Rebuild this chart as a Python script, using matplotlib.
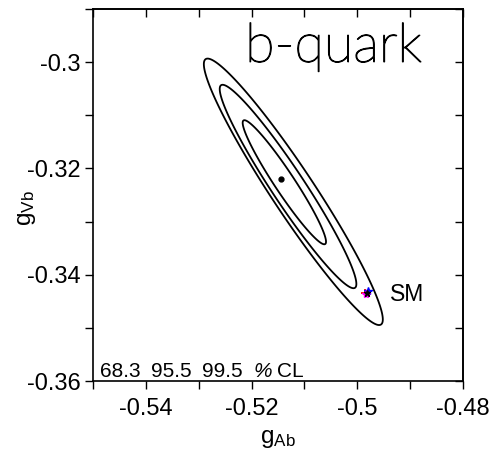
import numpy as np
import matplotlib
matplotlib.use("Agg")
import matplotlib.pyplot as plt
import matplotlib.patheffects as pe
from matplotlib.ticker import MultipleLocator, FuncFormatter

plt.rcParams['font.family'] = ['Liberation Sans', 'DejaVu Sans']
plt.rcParams['mathtext.fontset'] = 'custom'
plt.rcParams['mathtext.rm'] = 'Liberation Sans'
plt.rcParams['mathtext.it'] = 'Liberation Sans'

# Fit result: Gaussian approximation of the chi^2 surface in the (gAb, gVb) plane
cl_labels = ["68.3", "95.5", "99.5"]
chi2_levels = [2.30, 6.18, 10.60]
center_x = [-0.5138, -0.5131, -0.5121]
center_y = [-0.3226, -0.3234, -0.3244]
sigma_ab = 0.0052
sigma_vb = 0.0077
rho = -0.958

best_fit = (-0.5144, -0.3220)
sm_point = (-0.4982, -0.3434)

x_range = (-0.55, -0.48)
y_range = (-0.36, -0.29)

fig = plt.figure(figsize=(4.97, 4.67), dpi=100)
ax = fig.add_axes([93 / 497, 1 - 381 / 467, 370 / 497, 372 / 467])

gx = np.linspace(x_range[0], x_range[1], 600)
gy = np.linspace(y_range[0], y_range[1], 600)
X, Y = np.meshgrid(gx, gy)
for cx, cy, lev in zip(center_x, center_y, chi2_levels):
    u = (X - cx) / sigma_ab
    v = (Y - cy) / sigma_vb
    chi2 = (u ** 2 - 2 * rho * u * v + v ** 2) / (1 - rho ** 2)
    ax.contour(X, Y, chi2, levels=[lev], colors='black', linewidths=1.3)

ax.plot(*best_fit, 'o', color='black', ms=3.5)

# Standard Model point
ax.plot(sm_point[0] - 0.0004, sm_point[1], '+', color='red', ms=6, mew=1.3)
ax.plot(sm_point[0] + 0.0002, sm_point[1] + 0.0003, '*', color='blue', ms=6)
ax.plot(sm_point[0] - 0.0001, sm_point[1] - 0.0003, '*', color='magenta', ms=6)
ax.plot(sm_point[0], sm_point[1], '*', color='black', ms=5)
ax.text(sm_point[0] + 0.0044, sm_point[1] - 0.0004, "SM", fontsize=16.5,
        ha='left', va='center')

ax.set_xlim(*x_range)
ax.set_ylim(*y_range)

fmt = FuncFormatter(lambda v, p: ("%g" % round(v, 4)).replace("\u2212", "-"))
ax.xaxis.set_major_locator(MultipleLocator(0.02))
ax.xaxis.set_minor_locator(MultipleLocator(0.01))
ax.yaxis.set_major_locator(MultipleLocator(0.02))
ax.yaxis.set_minor_locator(MultipleLocator(0.01))
ax.xaxis.set_major_formatter(fmt)
ax.yaxis.set_major_formatter(fmt)
ax.tick_params(which='both', direction='out', length=6, width=1.0,
               labelsize=17)
ax.tick_params(axis='x', pad=6)
ax.tick_params(axis='y', pad=3)

# Inward ticks on the top and right edges
top = ax.secondary_xaxis('top')
right = ax.secondary_yaxis('right')
for sec in (top, right):
    sec.tick_params(which='both', direction='in', length=6, width=1.0)
top.xaxis.set_major_locator(MultipleLocator(0.02))
top.xaxis.set_minor_locator(MultipleLocator(0.01))
top.set_xticklabels([])
right.yaxis.set_major_locator(MultipleLocator(0.02))
right.yaxis.set_minor_locator(MultipleLocator(0.01))
right.set_yticklabels([])
for sec in (top, right):
    for s in sec.spines.values():
        s.set_linewidth(1.2)
for s in ax.spines.values():
    s.set_linewidth(1.2)

ax.set_xlabel(r"g$_{\mathrm{Ab}}$", fontsize=17.5)
ax.set_ylabel(r"g$_{\mathrm{Vb}}$", fontsize=17.5)
ax.xaxis.set_label_coords(0.5, -0.125)
ax.yaxis.set_label_coords(-0.15, 0.465)

# Confidence-level legend
cl_x = [0.019, 0.157, 0.294]
for xpos, lab in zip(cl_x, cl_labels):
    ax.text(xpos, 0.012, lab, transform=ax.transAxes, fontsize=15,
            ha='left', va='baseline')
ax.text(0.433, 0.012, "%", transform=ax.transAxes, fontsize=15,
        ha='left', va='baseline', style='italic')
ax.text(0.496, 0.012, "CL", transform=ax.transAxes, fontsize=15,
        ha='left', va='baseline')

ax.text(0.411, 0.858, "b-quark", transform=ax.transAxes,
        fontsize=39, family='Lato', fontweight='light',
        ha='left', va='baseline',
        path_effects=[pe.withStroke(linewidth=0.9, foreground='black')])

fig.savefig("out.png", dpi=100)
